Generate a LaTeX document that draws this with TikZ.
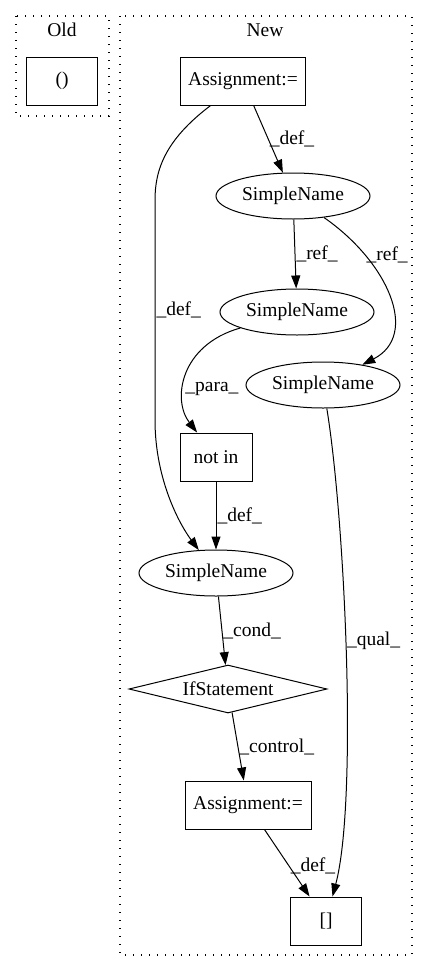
\documentclass[tikz,border=0pt]{standalone}
\usepackage{fontspec}
\setmainfont{Liberation Serif}
\usetikzlibrary{arrows.meta,shapes.geometric}

\tikzset{
  box/.style={draw,rectangle,minimum height=48pt,inner sep=0pt},
  oval/.style={draw,ellipse,minimum width=154pt,minimum height=46pt,inner sep=0pt},
  cond/.style={draw,diamond,shape aspect=4.1,minimum width=198pt,minimum height=48pt,inner sep=0pt},
  lbl/.style={anchor=west,inner sep=1pt},
  cluster/.style={line width=1.3pt,dash pattern=on 1.4pt off 6.6pt},
}

\begin{document}
\begin{tikzpicture}[x=1pt,y=-1pt,line width=1pt,font=\fontsize{19.5}{22}\selectfont,
    >={Triangle[length=13pt,width=9pt]}]
  \useasboundingbox (0,0) rectangle (428,972);
  % clusters
  \draw[cluster] (16,16) rectangle (109,116);
  \draw[cluster] (120,16) rectangle (412,955);
  \draw (62,30) node (old) {Old};
  \draw (265,30) node (new) {New};

  \draw (62,81) node[box,minimum width=71pt] (paren) {()};

  \draw (243,81) node[box,minimum width=125pt] (assign) {Assignment:=};
  \draw (293,196) node[oval] (name1) {SimpleName};
  \draw (297,312) node[oval] (name2) {SimpleName};
  \draw (323,385) node[oval] (name3) {SimpleName};
  \draw (216,457) node[box,minimum width=72pt] (notin) {not in};
  \draw (216,573) node[oval] (name4) {SimpleName};
  \draw (228,689) node[cond] (ifstmt) {IfStatement};
  \draw (248,805) node[box,minimum width=126pt] (assign2) {Assignment:=};
  \draw (326,921) node[box,minimum width=71pt] (index) {[]};

  \path[->] (assign) edge node[lbl] {\_def\_} (name1);
  \path[->] (name1) edge node[lbl] {\_ref\_} (name2);
  \path[->] (notin) edge node[lbl] {\_def\_} (name4);
  \path[->] (name4) edge node[lbl] {\_cond\_} (ifstmt);
  \path[->] (ifstmt) edge node[lbl] {\_control\_} (assign2);
  \path[->] (assign2) edge node[lbl,pos=0.55] {\_def\_} (index);

  \draw[->] (assign) .. controls (165,140) and (155,170) .. (155,200)
    -- node[lbl,pos=0.5] {\_def\_} (155,420) .. controls (155,480) and (180,525) .. (name4);
  \draw[->] (name1) .. controls (388,262) and (420,335) .. node[lbl,pos=0.25] {\_ref\_} (name3);
  \draw[->] (name2) .. controls (180,345) and (172,400) .. node[lbl,pos=0.62] {\_para\_} (notin);
  \draw[->] (name3) .. controls (345,520) and (358,800) .. node[lbl,pos=0.47] {\_qual\_} (index);
\end{tikzpicture}
\end{document}
